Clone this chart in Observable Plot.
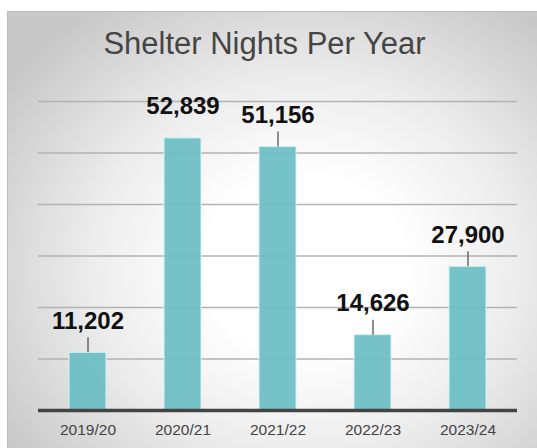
<!DOCTYPE html>
<html><head><meta charset="utf-8">
<script src="https://cdn.jsdelivr.net/npm/d3@7"></script>
<script src="https://cdn.jsdelivr.net/npm/@observablehq/plot@0.6"></script>
<style>
body{margin:0;background:#fff;font-family:"Liberation Sans",Arial,sans-serif;}
#bg{position:absolute;left:7px;top:11px;width:530px;height:437px;box-sizing:border-box;border-top:1px solid #bcbcbc;border-left:1px solid #bcbcbc;
 background:radial-gradient(ellipse 68% 72% at 56% 58%, #ffffff 28%, #ececec 60%, #c8c8c8 100%);}
#wrap{position:relative;width:537px;}
#title{height:75px;box-sizing:border-box;padding-top:28px;padding-right:8px;line-height:31px;font-size:31px;color:#454545;text-align:center;}
</style></head>
<body>
<div id="bg"></div>
<div id="wrap"><div id="title">Shelter Nights Per Year</div><div id="chart"></div></div>
<script>
const years = ["2019/20", "2020/21", "2021/22", "2022/23", "2023/24"];
const nights = [11202, 52839, 51156, 14626, 27900];
const gridTicks = [10000, 20000, 30000, 40000, 50000, 60000];

const data = years.map((year, i) => ({year, value: nights[i]}));
const fmt = d3.format(",");

const chart = Plot.plot({
  width: 537, height: 373,
  marginLeft: 38, marginRight: 20, marginTop: 26, marginBottom: 38,
  style: {background: "transparent", fontFamily: "Liberation Sans, Arial, sans-serif", fontSize: "15.5px", color: "#444", overflow: "visible"},
  x: {domain: years, padding: 0, label: null, tickSize: 0, tickPadding: 13},
  y: {domain: [0, 60000], axis: null},
  marks: [
    Plot.ruleY(gridTicks, {stroke: "#b2b2b2", strokeWidth: 1.5}),
    Plot.barY(data, {x: "year", y: "value", fill: "#6bbec4", fillOpacity: 0.93, stroke: "#d4f1f2", strokeWidth: 1, insetLeft: 29, insetRight: 29}),
    Plot.ruleY([0], {stroke: "#444", strokeWidth: 3.5}),
    Plot.ruleX(data.filter(d => d.year !== "2020/21"), {x: "year", y1: "value", y2: "value", insetBottom: 15, stroke: "#6a6a6a", strokeWidth: 1.5}),
    Plot.text(data, {x: "year", y: "value", text: d => fmt(d.value), dy: -24, lineAnchor: "bottom", fontSize: 24, fontWeight: "bold", fill: "#111"})
  ]
});
document.getElementById("chart").append(chart);
</script>
</body></html>
